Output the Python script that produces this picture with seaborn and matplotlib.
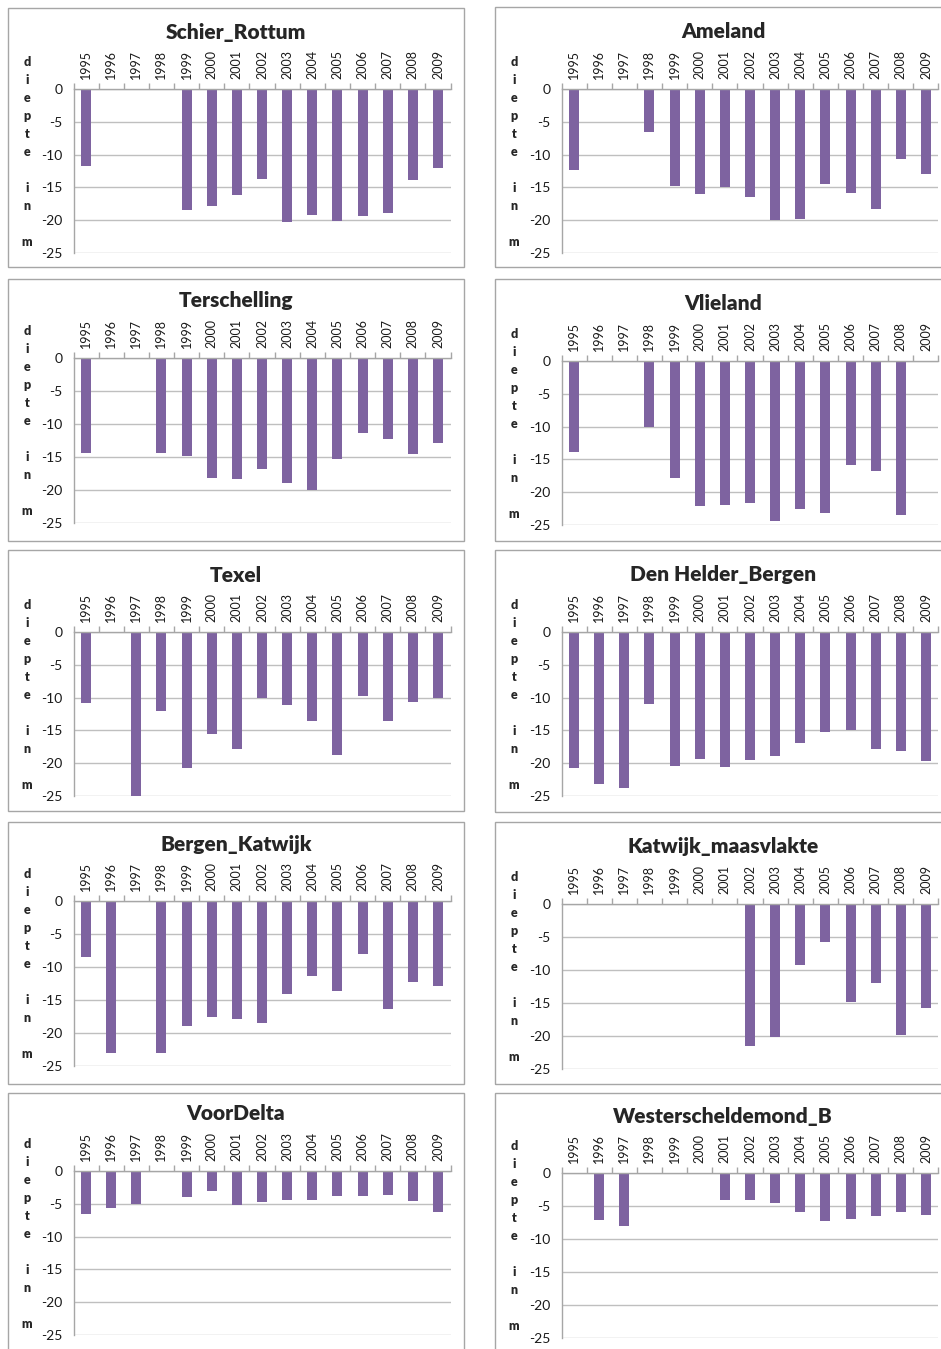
import numpy as np
import pandas as pd
import matplotlib
matplotlib.use('Agg')
import matplotlib.pyplot as plt
import seaborn as sns
from matplotlib.patches import Rectangle

# jaren en diepte per kustvak (m), leeg = geen meting
years = [str(y) for y in range(1995, 2010)]
nan = np.nan

schier_rottum = [-11.7, nan, nan, nan, -18.4, -17.8, -16.2, -13.7, -20.3, -19.2, -20.1, -19.4, -18.9, -13.9, -12.1]
ameland = [-12.3, nan, nan, -6.5, -14.8, -16.0, -15.0, -16.5, -19.9, -19.8, -14.5, -15.8, -18.3, -10.6, -12.9]
terschelling = [-14.4, nan, nan, -14.4, -14.8, -18.2, -18.4, -16.8, -19.0, -20.0, -15.3, -11.3, -12.3, -14.5, -12.9]
vlieland = [-13.8, nan, nan, -10.0, -17.8, -22.1, -22.0, -21.6, -24.4, -22.6, -23.1, -15.9, -16.7, -23.4, nan]
texel = [-10.8, nan, -25.0, -12.0, -20.7, -15.5, -17.9, -10.0, -11.2, -13.6, -18.7, -9.8, -13.6, -10.7, -10.1]
den_helder_bergen = [-20.7, -23.2, -23.8, -10.9, -20.5, -19.3, -20.6, -19.5, -18.9, -16.9, -15.2, -15.0, -17.9, -18.2, -19.7]
bergen_katwijk = [-8.5, -23.0, nan, -23.0, -19.0, -17.6, -17.9, -18.5, -14.1, -11.4, -13.7, -8.0, -16.4, -12.3, -12.9]
katwijk_maasvlakte = [nan, nan, nan, nan, nan, nan, nan, -21.5, -20.1, -9.3, -5.8, -14.9, -11.9, -19.9, -15.8]
voordelta = [-6.5, -5.6, -5.0, nan, -4.0, -3.0, -5.2, -4.8, -4.4, -4.4, -3.8, -3.8, -3.7, -4.5, -6.3]
westerscheldemond_b = [nan, -7.1, -8.0, nan, nan, nan, -4.1, -4.1, -4.5, -5.9, -7.3, -6.9, -6.5, -5.9, -6.3]

titles = ['Schier_Rottum', 'Ameland', 'Terschelling', 'Vlieland', 'Texel',
          'Den Helder_Bergen', 'Bergen_Katwijk', 'Katwijk_maasvlakte',
          'VoorDelta', 'Westerscheldemond_B']
series = [schier_rottum, ameland, terschelling, vlieland, texel,
          den_helder_bergen, bergen_katwijk, katwijk_maasvlakte,
          voordelta, westerscheldemond_b]

sns.set_style('white')
plt.rcParams['font.family'] = ['Lato', 'DejaVu Sans']
plt.rcParams['axes.unicode_minus'] = False

W, H = 941, 1349
fig = plt.figure(figsize=(W / 100, H / 100), dpi=100)

purple = '#7E63A0'
gray = '#A6A6A6'
grid_gray = '#BFBFBF'
text_col = '#1A1A1A'

# layout in pixels
col_box = [(8, 464), (495, 952)]
col_axis = [(73.5, 450.5), (561.5, 938.5)]
col_letters = [27, 514]
row_box = [[(8, 267), (7, 267)], [(279, 541), (279, 541)], [(550, 811), (550, 812)],
           [(822, 1084), (822, 1084)], [(1093, 1362), (1093, 1362)]]
row_axis = [[(89, 253), (89, 253)], [(358, 523), (361, 525)], [(632, 796), (632, 796)],
            [(901, 1066), (904, 1069)], [(1171, 1335), (1173, 1338)]]

letters = ['d', 'i', 'e', 'p', 't', 'e', 'i', 'n', 'm']
slots = [0, 1, 2, 3, 4, 5, 7, 8, 10]

for i, (title, vals) in enumerate(zip(titles, series)):
    r, c = divmod(i, 2)
    bx0, bx1 = col_box[c]
    by0, by1 = row_box[r][c]
    ax0, ax1 = col_axis[c]
    ay0, ay1 = row_axis[r][c]

    fig.add_artist(Rectangle((bx0 / W, 1 - by1 / H), (bx1 - bx0) / W, (by1 - by0) / H,
                             transform=fig.transFigure, fill=False, edgecolor=gray, lw=1))

    ax = fig.add_axes([ax0 / W, 1 - ay1 / H, (ax1 - ax0) / W, (ay1 - ay0) / H])
    df = pd.DataFrame({'jaar': years, 'diepte': vals})
    sns.barplot(data=df, x='jaar', y='diepte', order=years, color=purple,
                width=0.4, errorbar=None, saturation=1, ax=ax)
    for p in ax.patches:
        p.set_edgecolor('none')

    ax.set_ylim(-25, 0)
    ax.set_xlim(-0.5, 14.5)
    ax.set_yticks([0, -5, -10, -15, -20, -25])
    ax.set_yticklabels(['0', '-5', '-10', '-15', '-20', '-25'], fontsize=10, color=text_col)
    ax.xaxis.tick_top()
    ax.set_xticks(range(15))
    ax.set_xticklabels(years, rotation=90, fontsize=9, color=text_col)
    ax.set_xticks(np.arange(-0.5, 15, 1), minor=True)
    ax.tick_params(axis='x', which='major', length=0, pad=7)
    ax.tick_params(axis='x', which='minor', length=4, color=gray, width=1, direction='out', top=True)
    ax.tick_params(axis='y', length=4, color=gray, width=1, direction='out', pad=4)
    ax.set_xlabel('')
    ax.set_ylabel('')
    ax.yaxis.grid(True, color=grid_gray, lw=1)
    ax.set_axisbelow(True)
    for side in ['right', 'bottom']:
        ax.spines[side].set_visible(False)
    for side in ['top', 'left']:
        ax.spines[side].set_color(gray)
        ax.spines[side].set_linewidth(1)

    fig.text((bx0 + bx1) / 2 / W if c == 0 else 723 / W, 1 - (ay0 - 57) / H, title,
             ha='center', va='center', fontsize=15, fontweight='heavy')

    for ch, s in zip(letters, slots):
        fig.text(col_letters[c] / W, 1 - (ay0 - 27 + 18 * s) / H, ch,
                 ha='center', va='center', fontsize=9, fontweight='heavy')

fig.savefig('out.png', dpi=100, facecolor='white')
